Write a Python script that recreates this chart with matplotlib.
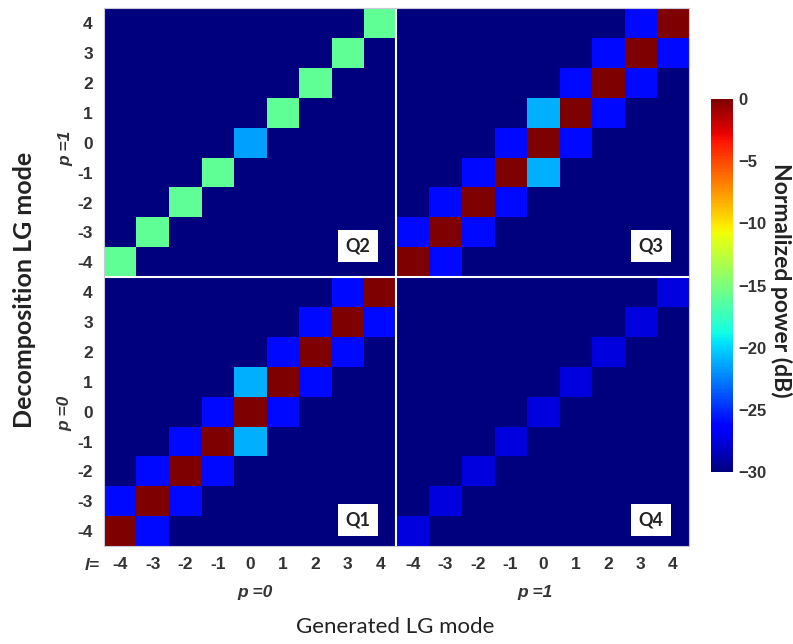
import numpy as np
import matplotlib
matplotlib.use("Agg")
import matplotlib.pyplot as plt

# === Data (normalized power in dB) ===
l_values = [-4, -3, -2, -1, 0, 1, 2, 3, 4]
background_db = -30

# Q1: generated p=0 -> decomposed p=0
q1_diag = [0, 0, 0, 0, 0, 0, 0, 0, 0]
q1_upper = [-26, -26, -26, -26, -21, -26, -26, -26]   # decomposed l = generated l + 1
q1_lower = [-26, -26, -26, -21, -26, -26, -26, -26]   # decomposed l = generated l - 1

# Q2: generated p=0 -> decomposed p=1
q2_diag = [-16, -16, -16, -16, -21.5, -16, -16, -16, -16]

# Q3: generated p=1 -> decomposed p=1
q3_diag = [0, 0, 0, 0, 0, 0, 0, 0, 0]
q3_upper = [-26, -26, -26, -26, -21, -26, -26, -26]
q3_lower = [-26, -26, -26, -21, -26, -26, -26, -26]

# Q4: generated p=1 -> decomposed p=0
q4_diag = [-27.5, -27.5, -27.5, -27.5, -27.5, -27.5, -27.5, -27.5, -27.5]

cbar_ticks = [0, -5, -10, -15, -20, -25, -30]


def quadrant(diag, upper=None, lower=None):
    # rows = decomposed l, columns = generated l
    m = np.full((9, 9), float(background_db))
    m[np.arange(9), np.arange(9)] = diag
    if upper is not None:
        m[np.arange(1, 9), np.arange(8)] = upper
    if lower is not None:
        m[np.arange(8), np.arange(1, 9)] = lower
    return m


Q1 = quadrant(q1_diag, q1_upper, q1_lower)
Q2 = quadrant(q2_diag)
Q3 = quadrant(q3_diag, q3_upper, q3_lower)
Q4 = quadrant(q4_diag)

# row 0 at bottom (p=0, l=-4), column 0 at left (p=0, l=-4)
full = np.block([[Q1, Q4], [Q2, Q3]])

# === Figure ===
fig = plt.figure(figsize=(7.93, 6.44), dpi=100)
ax = fig.add_axes([0.131, 0.152, 0.738, 0.835])

im = ax.imshow(full, cmap="jet", vmin=-30, vmax=0, origin="lower",
               aspect="auto", interpolation="nearest",
               extent=[-0.5, 17.5, -0.5, 17.5])

ax.axvline(8.5, color="white", lw=1.5)
ax.axhline(8.5, color="white", lw=1.5)
for s in ax.spines.values():
    s.set_color("#c8c8d8")
    s.set_linewidth(0.8)

tick_font = dict(family="Liberation Sans", weight="bold", size=12.5, color="#333333")
ax.set_xticks(range(18))
ax.set_xticklabels([str(v) for v in l_values] * 2, fontdict=tick_font)
ax.set_yticks(range(18))
ax.set_yticklabels([str(v) for v in l_values] * 2, fontdict=tick_font)
ax.tick_params(length=0, pad=8)

# quadrant tags
for name, x, y in [("Q1", 7.32, 0.38), ("Q2", 7.32, 9.54),
                   ("Q3", 16.33, 9.54), ("Q4", 16.33, 0.38)]:
    ax.text(x, y, name, ha="center", va="center", fontsize=13, family="Lato",
            weight="bold", color="#222222",
            bbox=dict(facecolor="white", edgecolor="none", boxstyle="square,pad=0.4"))

# sub labels
lab = dict(style="italic", weight="bold", size=12.5, family="Liberation Sans", color="#333333")
fig.text(92 / 793, 1 - 566 / 644, "l=", ha="center", va="center", **lab)
fig.text(255 / 793, 1 - 593 / 644, "p =0", ha="center", va="center", **lab)
fig.text(535 / 793, 1 - 593 / 644, "p =1", ha="center", va="center", **lab)
fig.text(66 / 793, 1 - 148 / 644, "p =1", ha="center", va="center", rotation=90, **lab)
fig.text(65 / 793, 1 - 413 / 644, "p =0", ha="center", va="center", rotation=90, **lab)

fig.text(395 / 793, 1 - 627 / 644, "Generated LG mode", ha="center", va="center",
         fontsize=16, family="Lato", color="#222222")
fig.text(25 / 793, 1 - 290 / 644, "Decomposition LG mode", ha="center", va="center",
         rotation=90, fontsize=18, family="Lato", weight="bold", color="#222222")

# === Colorbar ===
cax = fig.add_axes([0.8966, 0.267, 0.0277, 0.579])
cb = fig.colorbar(im, cax=cax, ticks=cbar_ticks)
cb.outline.set_visible(False)
cb.ax.tick_params(length=0, pad=4)
for t in cb.ax.get_yticklabels():
    t.set_fontproperties(dict(family="Liberation Sans", weight="bold", size=12))
    t.set_color("#333333")
fig.text(781 / 793, 1 - 280 / 644, "Normalized power (dB)", ha="center", va="center",
         rotation=270, fontsize=16.5, family="Lato", weight="bold", color="#222222")

plt.savefig("out.png", dpi=100)
